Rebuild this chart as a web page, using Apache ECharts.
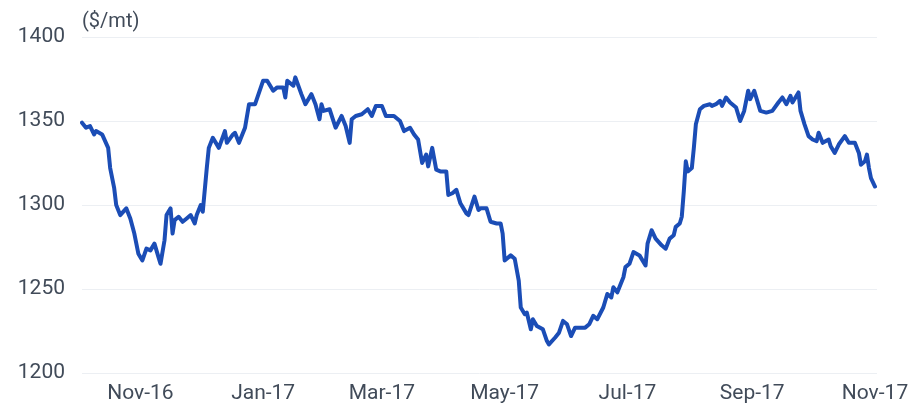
<!DOCTYPE html>
<html>
<head>
<meta charset="utf-8">
<script src="https://cdn.jsdelivr.net/npm/echarts@6/dist/echarts.min.js"></script>
<style>
  html, body { margin: 0; padding: 0; background: #ffffff; }
  #chart { width: 912px; height: 406px; }
</style>
</head>
<body>
<div id="chart"></div>
<script>
var dates = [
  '2016-10-03','2016-10-05','2016-10-07','2016-10-09','2016-10-10','2016-10-13','2016-10-16','2016-10-17','2016-10-19','2016-10-20',
  '2016-10-22','2016-10-25','2016-10-27','2016-10-29','2016-10-31','2016-11-02','2016-11-04','2016-11-06','2016-11-08','2016-11-10',
  '2016-11-11','2016-11-13','2016-11-14','2016-11-16','2016-11-17','2016-11-18','2016-11-20','2016-11-22','2016-11-24','2016-11-26',
  '2016-11-28','2016-11-29','2016-12-01','2016-12-02','2016-12-04','2016-12-05','2016-12-07','2016-12-10','2016-12-13','2016-12-14',
  '2016-12-17','2016-12-18','2016-12-20','2016-12-23','2016-12-25','2016-12-28','2017-01-01','2017-01-03','2017-01-06','2017-01-08',
  '2017-01-11','2017-01-12','2017-01-13','2017-01-16','2017-01-17','2017-01-20','2017-01-22','2017-01-25','2017-01-27','2017-01-29',
  '2017-01-30','2017-01-31','2017-02-03','2017-02-06','2017-02-09','2017-02-11','2017-02-13','2017-02-14','2017-02-16','2017-02-19',
  '2017-02-22','2017-02-24','2017-02-26','2017-03-01','2017-03-03','2017-03-07','2017-03-10','2017-03-12','2017-03-15','2017-03-17',
  '2017-03-19','2017-03-21','2017-03-23','2017-03-24','2017-03-26','2017-03-28','2017-03-30','2017-04-02','2017-04-03','2017-04-05',
  '2017-04-07','2017-04-09','2017-04-12','2017-04-13','2017-04-16','2017-04-18','2017-04-19','2017-04-22','2017-04-24','2017-04-27',
  '2017-04-29','2017-04-30','2017-05-01','2017-05-04','2017-05-06','2017-05-08','2017-05-09','2017-05-11','2017-05-12','2017-05-14',
  '2017-05-15','2017-05-17','2017-05-20','2017-05-22','2017-05-23','2017-05-26','2017-05-28','2017-05-30','2017-06-01','2017-06-03',
  '2017-06-05','2017-06-08','2017-06-10','2017-06-12','2017-06-14','2017-06-16','2017-06-19','2017-06-21','2017-06-23','2017-06-24',
  '2017-06-26','2017-06-29','2017-06-30','2017-07-02','2017-07-04','2017-07-07','2017-07-10','2017-07-11','2017-07-13','2017-07-15',
  '2017-07-18','2017-07-20','2017-07-22','2017-07-24','2017-07-25','2017-07-27','2017-07-28','2017-07-29','2017-07-30','2017-07-31',
  '2017-08-02','2017-08-03','2017-08-04','2017-08-06','2017-08-08','2017-08-11','2017-08-12','2017-08-14','2017-08-16','2017-08-17',
  '2017-08-19','2017-08-21','2017-08-24','2017-08-26','2017-08-28','2017-08-30','2017-08-31','2017-09-02','2017-09-05','2017-09-08',
  '2017-09-11','2017-09-14','2017-09-16','2017-09-18','2017-09-20','2017-09-21','2017-09-24','2017-09-25','2017-09-27','2017-09-29',
  '2017-10-01','2017-10-03','2017-10-04','2017-10-06','2017-10-09','2017-10-10','2017-10-12','2017-10-14','2017-10-17','2017-10-19',
  '2017-10-22','2017-10-24','2017-10-25','2017-10-27','2017-10-28','2017-10-29','2017-10-30','2017-11-01'
];
var prices = [
  1349,1346,1347,1342,1344,1342,1334,1322,1310,1300,
  1294,1298,1292,1283,1271,1267,1274,1273,1277,1269,
  1265,1279,1294,1298,1283,1291,1293,1290,1292,1294,
  1289,1294,1300,1296,1322,1334,1340,1334,1344,1337,
  1342,1343,1337,1346,1360,1360,1374,1374,1368,1370,
  1370,1364,1374,1371,1376,1366,1360,1366,1360,1351,
  1360,1356,1357,1346,1353,1347,1337,1351,1353,1354,
  1357,1353,1359,1359,1353,1353,1350,1344,1346,1342,
  1339,1325,1330,1323,1334,1321,1320,1320,1306,1307,
  1309,1301,1295,1294,1305,1297,1298,1298,1290,1289,
  1289,1283,1267,1270,1268,1255,1239,1235,1236,1226,
  1232,1228,1226,1219,1217,1221,1224,1231,1229,1222,
  1227,1227,1227,1229,1234,1232,1239,1247,1245,1251,
  1248,1257,1263,1265,1272,1270,1264,1277,1285,1280,
  1276,1274,1280,1282,1287,1289,1293,1308,1326,1320,
  1322,1334,1348,1357,1359,1360,1359,1360,1362,1359,
  1364,1361,1358,1350,1356,1368,1363,1368,1356,1355,
  1356,1361,1364,1360,1365,1361,1367,1356,1348,1341,
  1339,1338,1343,1337,1339,1335,1331,1336,1341,1337,
  1337,1331,1324,1326,1330,1322,1316,1311
];
var tickDates = ['2016-11-01','2017-01-01','2017-03-01','2017-05-01','2017-07-01','2017-09-01','2017-11-01'];
var tickLabels = ['Nov-16','Jan-17','Mar-17','May-17','Jul-17','Sep-17','Nov-17'];
var yTicks = [1200, 1250, 1300, 1350, 1400];
var unitLabel = '($/mt)';

function ts(s) {
  var p = s.split('-');
  return Date.UTC(+p[0], +p[1] - 1, +p[2]);
}
var tickTs = tickDates.map(ts);
var seriesData = dates.map(function (d, i) { return [ts(d), prices[i]]; });

var textColor = '#414b59';
var chart = echarts.init(document.getElementById('chart'), null, { renderer: 'canvas' });
chart.setOption({
  backgroundColor: '#ffffff',
  animation: false,
  title: {
    text: unitLabel,
    left: 77,
    top: 7,
    textStyle: { fontFamily: 'Roboto', fontSize: 20, fontWeight: 'normal', color: textColor }
  },
  grid: { left: 82, right: 35, top: 37, bottom: 33, containLabel: false },
  xAxis: {
    type: 'value',
    min: ts('2016-10-03'),
    max: ts('2017-11-02'),
    axisLine: { show: false },
    axisTick: { show: false },
    splitLine: { show: false },
    axisLabel: {
      customValues: tickTs,
      margin: 10,
      fontFamily: 'Roboto',
      fontSize: 21,
      color: textColor,
      showMinLabel: true,
      showMaxLabel: true,
      hideOverlap: false,
      formatter: function (v) {
        var idx = tickTs.indexOf(v);
        return idx >= 0 ? tickLabels[idx] : '';
      }
    }
  },
  yAxis: {
    type: 'value',
    min: yTicks[0],
    max: yTicks[yTicks.length - 1],
    interval: 50,
    axisLine: { show: false },
    axisTick: { show: false },
    splitLine: { show: true, lineStyle: { color: '#eceff3', width: 1 } },
    axisLabel: {
      margin: 17,
      fontFamily: 'Roboto',
      fontSize: 21,
      color: textColor,
      padding: [8, 0, 0, 0],
      formatter: function (v) { return String(v); }
    }
  },
  series: [{
    type: 'line',
    data: seriesData,
    showSymbol: false,
    symbol: 'none',
    lineStyle: { color: '#1b4db6', width: 4, join: 'round', cap: 'round' },
    itemStyle: { color: '#1b4db6' }
  }]
});
</script>
</body>
</html>
